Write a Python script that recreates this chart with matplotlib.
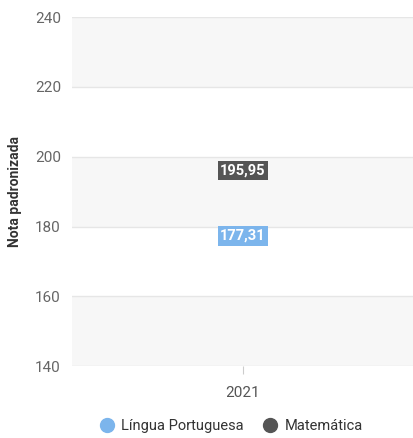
import matplotlib
matplotlib.use("Agg")
import matplotlib.pyplot as plt
from matplotlib.lines import Line2D

plt.rcParams["font.family"] = ["Roboto", "DejaVu Sans"]

anos = ["2021"]
lingua_portuguesa = [177.31]
matematica = [195.95]
series_names = ["Língua Portuguesa", "Matemática"]
colors = ["#7cb5ec", "#555555"]
y_ticks = [140, 160, 180, 200, 220, 240]

fig = plt.figure(figsize=(4.14, 4.38), dpi=100)
ax = fig.add_axes([0.174, 0.164, 0.826, 0.797])

x = range(len(anos))
ax.set_xlim(-0.5, len(anos) - 0.5)
ax.set_ylim(140, 240)

# alternating bands
for i in range(len(y_ticks) - 1):
    if i % 2 == 0:
        ax.axhspan(y_ticks[i], y_ticks[i + 1], color="#f7f7f7", zorder=0, lw=0)
for t in y_ticks:
    ax.axhline(t, color="#e6e6e6", lw=1, zorder=1)

for vals, c in zip([lingua_portuguesa, matematica], colors):
    ax.scatter(x, vals, color=c, s=20, zorder=2)
    for xi, v in zip(x, vals):
        ax.text(xi, v, f"{v:.2f}".replace(".", ","), ha="center", va="center",
                color="white", fontsize=10.5, fontweight="bold", zorder=3,
                bbox=dict(boxstyle="square,pad=0.18", fc=c, ec="none"))

ax.set_yticks(y_ticks)
ax.set_xticks(list(x))
ax.set_xticklabels(anos)
ax.tick_params(axis="y", length=0, pad=8, labelcolor="#666666", labelsize=11)
ax.tick_params(axis="x", length=6, color="#cccccc", pad=8, labelcolor="#555555", labelsize=11)
for s in ax.spines.values():
    s.set_visible(False)

ax.set_ylabel("Nota padronizada", fontsize=10, fontweight="bold", color="#333333", labelpad=9)

handles = [Line2D([], [], marker="o", ls="", markersize=10, color=c) for c in colors]
fig.legend(handles, series_names, loc="center", bbox_to_anchor=(0.55, 0.027), ncol=2,
           frameon=False, fontsize=10.5, handletextpad=0.0, columnspacing=0.8,
           labelcolor="#333333")

fig.savefig("out.png", dpi=100)
